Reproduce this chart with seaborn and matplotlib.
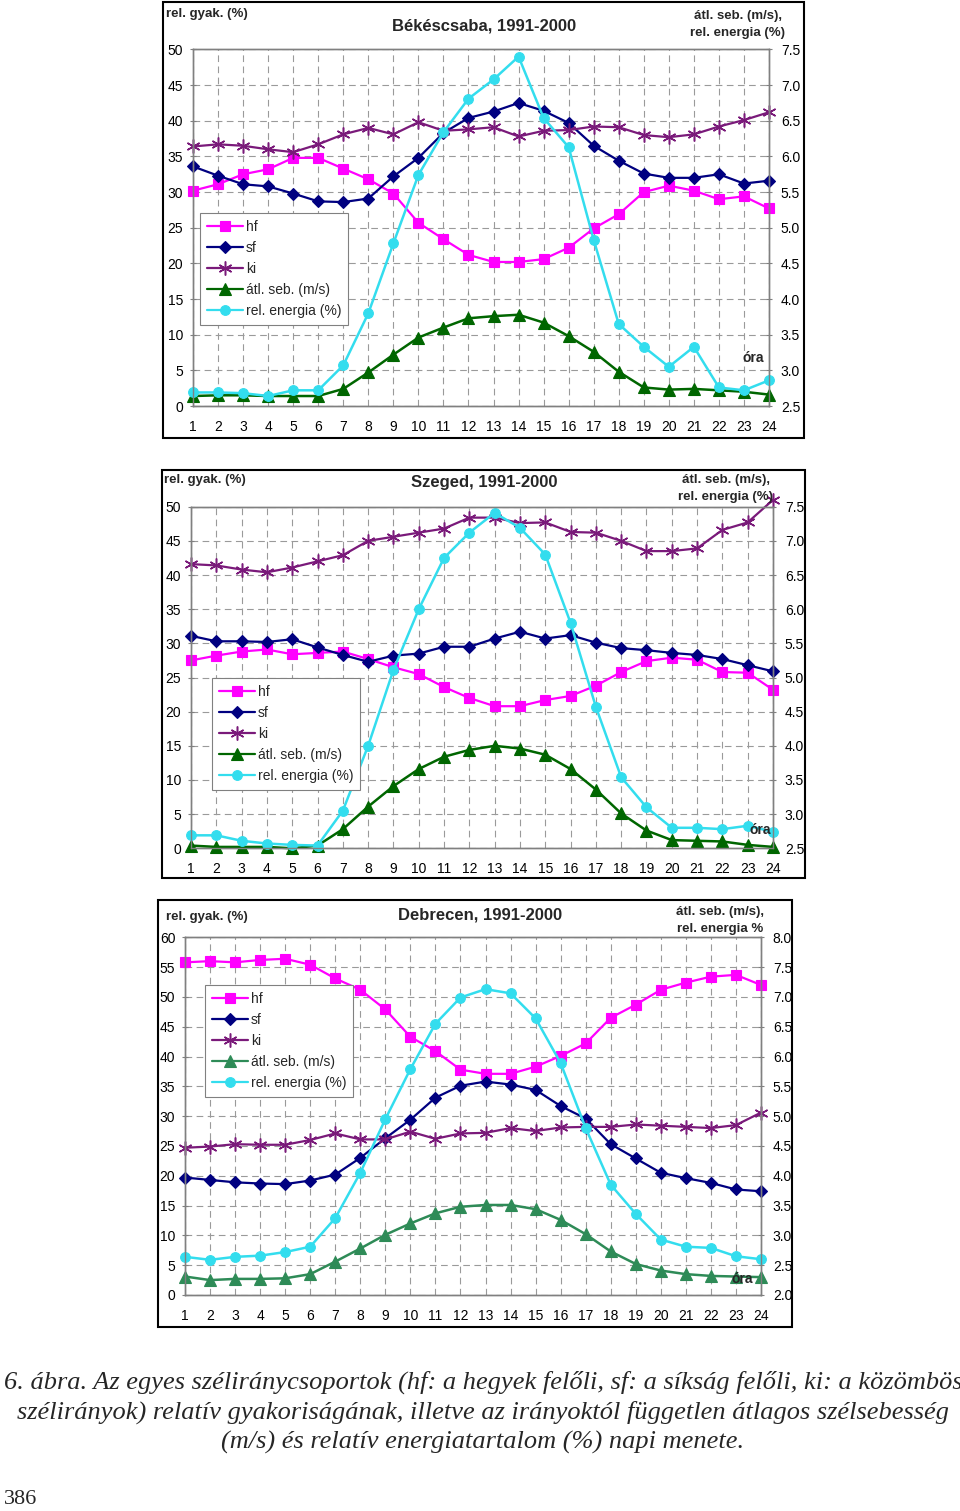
import matplotlib
matplotlib.use("Agg")
import matplotlib.pyplot as plt
import seaborn as sns
from matplotlib.patches import Rectangle
from matplotlib.lines import Line2D
from matplotlib.ticker import FormatStrFormatter

# hours of the day
hours = list(range(1, 25))

# Békéscsaba, 1991-2000
bcs_hf = [30.2, 31.1, 32.5, 33.2, 34.8, 34.8, 33.3, 31.8, 29.8, 25.7, 23.4, 21.2,
          20.2, 20.2, 20.6, 22.2, 24.9, 26.9, 30.0, 30.9, 30.2, 29.0, 29.4, 27.7]
bcs_sf = [33.6, 32.3, 31.1, 30.8, 29.8, 28.7, 28.6, 29.1, 32.2, 34.8, 38.3, 40.4,
          41.3, 42.5, 41.4, 39.7, 36.5, 34.4, 32.6, 32.0, 32.0, 32.5, 31.2, 31.6]
bcs_ki = [36.4, 36.7, 36.5, 36.0, 35.6, 36.7, 38.1, 39.0, 38.1, 39.8, 38.6, 38.8,
          39.1, 37.8, 38.6, 38.7, 39.2, 39.1, 38.0, 37.7, 38.1, 39.2, 40.1, 41.2]
bcs_seb = [2.64, 2.65, 2.65, 2.64, 2.64, 2.64, 2.74, 2.97, 3.22, 3.46, 3.60, 3.73,
           3.76, 3.78, 3.67, 3.48, 3.26, 2.98, 2.76, 2.73, 2.74, 2.72, 2.70, 2.66]
bcs_energia = [2.69, 2.69, 2.68, 2.64, 2.72, 2.72, 3.07, 3.80, 4.78, 5.74, 6.34, 6.81,
               7.08, 7.40, 6.54, 6.13, 4.83, 3.65, 3.33, 3.05, 3.33, 2.76, 2.72, 2.86]

# Szeged, 1991-2000
szg_hf = [27.5, 28.2, 28.8, 29.1, 28.4, 28.6, 28.8, 27.7, 26.5, 25.5, 23.6, 22.0,
          20.8, 20.8, 21.7, 22.3, 23.8, 25.8, 27.4, 27.9, 27.6, 25.8, 25.7, 23.2]
szg_sf = [31.1, 30.3, 30.3, 30.2, 30.6, 29.4, 28.3, 27.3, 28.2, 28.5, 29.5, 29.5,
          30.7, 31.7, 30.7, 31.2, 30.1, 29.3, 29.0, 28.6, 28.3, 27.7, 26.8, 25.9]
szg_ki = [41.6, 41.4, 40.8, 40.4, 41.1, 42.0, 42.9, 45.0, 45.6, 46.2, 46.8, 48.4,
          48.4, 47.6, 47.7, 46.3, 46.2, 45.0, 43.5, 43.5, 43.9, 46.6, 47.7, 51.0]
szg_seb = [2.54, 2.52, 2.52, 2.52, 2.50, 2.54, 2.78, 3.11, 3.41, 3.66, 3.84, 3.94,
           4.00, 3.96, 3.87, 3.66, 3.36, 3.01, 2.76, 2.62, 2.61, 2.60, 2.55, 2.52]
szg_energia = [2.69, 2.69, 2.61, 2.57, 2.55, 2.54, 3.05, 4.00, 5.11, 6.00, 6.75, 7.12,
               7.41, 7.19, 6.80, 5.80, 4.57, 3.54, 3.10, 2.80, 2.80, 2.78, 2.83, 2.74]

# Debrecen, 1991-2000
dbr_hf = [55.8, 56.0, 55.8, 56.2, 56.4, 55.4, 53.1, 51.2, 47.9, 43.3, 40.9, 37.8,
          37.1, 37.1, 38.3, 40.1, 42.2, 46.5, 48.7, 51.2, 52.4, 53.4, 53.7, 52.0]
dbr_sf = [19.7, 19.3, 18.9, 18.7, 18.6, 19.2, 20.2, 23.0, 26.3, 29.4, 33.1, 35.1,
          35.8, 35.3, 34.4, 31.7, 29.6, 25.3, 22.9, 20.5, 19.6, 18.8, 17.7, 17.4]
dbr_ki = [24.7, 24.9, 25.3, 25.2, 25.2, 26.0, 27.1, 26.1, 26.1, 27.4, 26.2, 27.1,
          27.2, 28.0, 27.5, 28.1, 28.2, 28.2, 28.6, 28.4, 28.2, 28.0, 28.5, 30.6]
dbr_seb = [2.31, 2.25, 2.27, 2.27, 2.28, 2.35, 2.56, 2.78, 3.01, 3.20, 3.37, 3.48,
           3.51, 3.51, 3.44, 3.26, 3.02, 2.73, 2.52, 2.41, 2.35, 2.32, 2.31, 2.30]
dbr_energia = [2.64, 2.59, 2.64, 2.66, 2.72, 2.81, 3.29, 4.05, 4.95, 5.79, 6.55, 6.99,
               7.13, 7.06, 6.64, 5.89, 4.80, 3.85, 3.36, 2.93, 2.81, 2.79, 2.65, 2.60]

series_names = ["hf", "sf", "ki", "átl. seb. (m/s)", "rel. energia (%)"]

sns.set_theme(style="white")
plt.rcParams['font.family'] = ['Liberation Sans', 'DejaVu Sans']

W, H = 960, 1511
fig = plt.figure(figsize=(W / 100, H / 100), dpi=100)


def fx(x):
    return x / W


def fy(y):
    return 1 - y / H


# marker / colour styles for the five series
styles = {
    "hf": dict(color="#ff00ff", marker="s", markersize=7),
    "sf": dict(color="#000080", marker="D", markersize=6),
    "ki": dict(color="#7a1a7a", marker=(6, 2, 0), markersize=10, markeredgewidth=1.1),
    "seb": dict(color="#006600", marker="^", markersize=8),
    "energia": dict(color="#33ddee", marker="o", markersize=7),
}


def draw_panel(frame, plot, title, title_xy, left_lim, right_lim, vals,
               legend_xy, ora_xy, left_lab_xy, right_lab_xy, right_lab2, seb_color):
    # outer frame of the panel
    fig.patches.append(Rectangle((fx(frame[0]), fy(frame[3])),
                                 fx(frame[2] - frame[0]), (frame[3] - frame[1]) / H,
                                 transform=fig.transFigure, fill=False,
                                 edgecolor="black", linewidth=1.5))
    ax = fig.add_axes([fx(plot[0]), fy(plot[3]), fx(plot[2] - plot[0]),
                       (plot[3] - plot[1]) / H])
    ax2 = ax.twinx()

    hf, sf, ki, seb, energia = vals
    handles = []
    for key, v in (("hf", hf), ("sf", sf), ("ki", ki)):
        st = dict(styles[key])
        c = st.pop("color")
        st.setdefault("markeredgewidth", 0.8)
        sns.lineplot(x=hours, y=v, ax=ax, color=c, linewidth=1.6,
                     markeredgecolor=c, markerfacecolor=c, clip_on=False, **st)
        handles.append(Line2D([], [], color=c, linewidth=1.6, markeredgecolor=c,
                              markerfacecolor=c, **st))
    for key, v in (("seb", seb), ("energia", energia)):
        st = dict(styles[key])
        c = st.pop("color")
        if key == "seb":
            c = seb_color
        st.setdefault("markeredgewidth", 0.8)
        sns.lineplot(x=hours, y=v, ax=ax2, color=c, linewidth=1.8,
                     markeredgecolor=c, markerfacecolor=c, clip_on=False, **st)
        handles.append(Line2D([], [], color=c, linewidth=1.6, markeredgecolor=c,
                              markerfacecolor=c, **st))

    ax.set_xlim(1, 24)
    ax.set_ylim(*left_lim)
    ax2.set_ylim(*right_lim)
    ax.set_xticks(hours)
    ax.set_yticks(range(left_lim[0], left_lim[1] + 1, 5))
    r0, r1 = right_lim
    n = int(round((r1 - r0) / 0.5))
    ax2.set_yticks([r0 + 0.5 * i for i in range(n + 1)])
    ax2.yaxis.set_major_formatter(FormatStrFormatter("%.1f"))
    ax.set_xlabel("")
    ax.set_ylabel("")
    ax2.set_ylabel("")

    ax.grid(True, linestyle=(0, (6, 4)), color="#9a9a9a", linewidth=0.8)
    ax2.grid(False)
    for a in (ax, ax2):
        for s in a.spines.values():
            s.set_color("#808080")
            s.set_linewidth(1.0)
        a.tick_params(labelsize=10, colors="black", length=4, width=0.8,
                      direction="inout")
        a.tick_params(color="#808080")
    ax.tick_params(axis="x", pad=8)
    ax.tick_params(axis="y", pad=5)
    ax2.tick_params(axis="y", pad=6.5)

    leg = ax2.legend(handles, series_names, loc="upper left",
                     bbox_to_anchor=(fx(legend_xy[0]), fy(legend_xy[1])),
                     bbox_transform=fig.transFigure, fontsize=10, frameon=True,
                     fancybox=False, edgecolor="#808080", framealpha=1,
                     handlelength=2.6, handletextpad=0.2, labelspacing=0.5,
                     borderpad=0.5, borderaxespad=0)
    leg.get_frame().set_linewidth(0.8)

    fig.text(fx(title_xy[0]), fy(title_xy[1]), title, ha="center", va="center",
             fontsize=12, fontweight="bold")
    fig.text(fx(left_lab_xy[0]), fy(left_lab_xy[1]), "rel. gyak. (%)", ha="left",
             va="center", fontsize=9.5, fontweight="bold")
    fig.text(fx(right_lab_xy[0]), fy(right_lab_xy[1]), "átl. seb. (m/s),",
             ha="center", va="center", fontsize=9.5, fontweight="bold")
    fig.text(fx(right_lab_xy[0]), fy(right_lab_xy[1] + 17), right_lab2,
             ha="center", va="center", fontsize=9.5, fontweight="bold")
    fig.text(fx(ora_xy[0]), fy(ora_xy[1]), "óra", ha="center", va="center",
             fontsize=10, fontweight="bold")


draw_panel((163, 2, 804, 438), (193, 49.5, 769, 406), "Békéscsaba, 1991-2000",
           (484, 26), (0, 50), (2.5, 7.5),
           (bcs_hf, bcs_sf, bcs_ki, bcs_seb, bcs_energia),
           (200, 213), (753, 358), (166, 14), (738, 16), "rel. energia (%)", "#006600")

draw_panel((162, 470, 805, 878), (191, 506.7, 773, 848.3), "Szeged, 1991-2000",
           (484, 483), (0, 50), (2.5, 7.5),
           (szg_hf, szg_sf, szg_ki, szg_seb, szg_energia),
           (212, 678), (760, 830), (164, 480), (726, 480), "rel. energia (%)", "#006600")

draw_panel((158, 900, 792, 1327), (185, 937.3, 761, 1295), "Debrecen, 1991-2000",
           (480, 915), (0, 60), (2.0, 8.0),
           (dbr_hf, dbr_sf, dbr_ki, dbr_seb, dbr_energia),
           (205, 985), (742, 1279), (166, 917), (720, 912), "rel. energia %", "#2e8b57")

# caption under the figure
caption = [
    "6. ábra. Az egyes széliránycsoportok (hf: a hegyek felőli, sf: a síkság felőli, ki: a közömbös",
    "szélirányok) relatív gyakoriságának, illetve az irányoktól független átlagos szélsebesség",
    "(m/s) és relatív energiatartalom (%) napi menete.",
]
for i, line in enumerate(caption):
    fig.text(fx(483), fy(1382 + 30 * i), line, ha="center", va="center",
             fontsize=19, style="italic", family=["Liberation Serif", "DejaVu Serif"])
fig.text(fx(4), fy(1500), "386", ha="left", va="center", fontsize=16,
         family=["Liberation Serif", "DejaVu Serif"])

fig.savefig("out.png", dpi=100)
